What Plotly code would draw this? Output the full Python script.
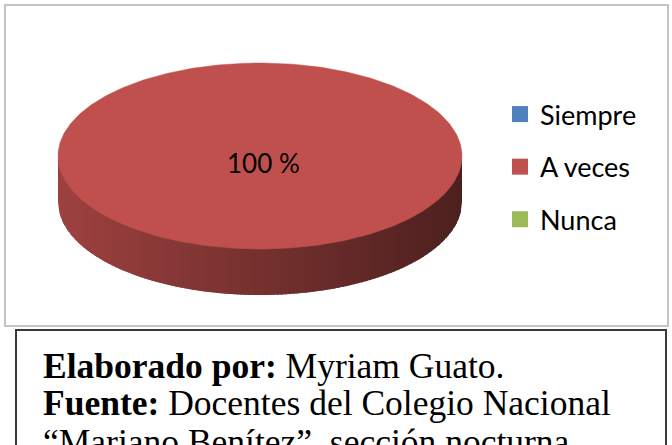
import numpy as np
import plotly.graph_objects as go

# ---- data ----
categories = ["Siempre", "A veces", "Nunca"]
values = [0, 100, 0]
colors = ["#4F81BD", "#C0504D", "#9BBB59"]
label_texts = ["0 %", "100 %", "0 %"]

# ---- geometry of the 3D pie (pixel space) ----
W, H = 672, 445
cx, cy, rx, ry, depth = 260, 156, 202, 93, 46

def hex_to_rgb(h):
    h = h.lstrip("#")
    return tuple(int(h[i:i + 2], 16) for i in (0, 2, 4))

def shade(rgb, f):
    return "rgb(%d,%d,%d)" % tuple(int(round(c * f)) for c in rgb)

fig = go.Figure()

total = float(sum(values))
start = -np.pi / 2
slices = []
for cat, v, col in zip(categories, values, colors):
    span = 2 * np.pi * v / total
    slices.append((cat, v, col, start, start + span))
    start += span

# side walls (front half, angles 0..pi in screen coords) with horizontal gradient,
# strips uniform in x, overlapping so no seams show
N = 100
for cat, v, col, a0, a1 in slices:
    if v <= 0:
        continue
    rgb = hex_to_rgb(col)
    for k in range(-1, 2):
        lo = max(a0, 0 + 2 * np.pi * k)
        hi = min(a1, np.pi + 2 * np.pi * k)
        if hi <= lo:
            continue
        xa = cx + rx * np.cos(hi - 2 * np.pi * k)
        xb = cx + rx * np.cos(lo - 2 * np.pi * k)
        xe = np.linspace(xa, xb, N + 1)
        for i in range(N):
            xx = np.linspace(xe[i], xe[i + 1] + 3.0, 6)
            xx = np.clip(xx, cx - rx, cx + rx)
            t = np.arccos(np.clip((xx - cx) / rx, -1, 1))
            yt = cy + ry * np.sin(t)
            xs = list(xx) + list(xx[::-1])
            ys = list(yt - 2) + list((yt + depth)[::-1])
            frac = ((xe[i] + xe[i + 1]) / 2 - (cx - rx)) / (2 * rx)
            f = 0.82 - 0.42 * frac
            c = shade(rgb, f)
            fig.add_trace(go.Scatter(
                x=xs, y=ys, mode="lines", fill="toself", fillcolor=c,
                line=dict(color=c, width=0), hoverinfo="skip", showlegend=False))

# top faces
for cat, v, col, a0, a1 in slices:
    if v <= 0:
        continue
    t = np.linspace(a0, a1, 361)
    xs = [cx] + list(cx + rx * np.cos(t)) + [cx]
    ys = [cy] + list(cy + ry * np.sin(t)) + [cy]
    fig.add_trace(go.Scatter(
        x=xs, y=ys, mode="lines", fill="toself", fillcolor=col,
        line=dict(color=col, width=0.5), hoverinfo="skip", showlegend=False))

# data labels
for (cat, v, col, a0, a1), txt in zip(slices, label_texts):
    if v <= 0:
        continue
    if v >= total:
        lx, ly = cx, cy
    else:
        am = (a0 + a1) / 2
        lx, ly = cx + 0.6 * rx * np.cos(am), cy + 0.6 * ry * np.sin(am)
    fig.add_annotation(x=lx, y=ly, xref="x", yref="y", text=txt, showarrow=False,
                       yshift=-7, xshift=3,
                       font=dict(family="Lato", size=26, color="#000000"))

# legend entries
for i, (cat, col) in enumerate(zip(categories, colors)):
    fig.add_trace(go.Scatter(
        x=[None], y=[None], mode="markers", name=cat, legendgroup=cat,
        marker=dict(symbol="square", size=16, color=col)))

# frames
fig.add_shape(type="rect", xref="x", yref="y", x0=5, y0=5, x1=668, y1=326,
              line=dict(color="#C4C4C4", width=2), layer="below")
fig.add_shape(type="rect", xref="x", yref="y", x0=16, y0=330, x1=666, y1=470,
              line=dict(color="#3A3A3A", width=2), layer="below")

# caption text
serif = dict(family="Liberation Serif, Times New Roman, serif", size=35.5, color="#000000")
fig.add_annotation(x=41, y=366, xref="x", yref="y", xanchor="left", yanchor="middle",
                   text="<b>Elaborado por:</b> Myriam Guato.", showarrow=False, font=serif)
fig.add_annotation(x=41, y=403, xref="x", yref="y", xanchor="left", yanchor="middle",
                   text="<b>Fuente:</b> Docentes del Colegio Nacional", showarrow=False, font=serif)
fig.add_annotation(x=41, y=442, xref="x", yref="y", xanchor="left", yanchor="middle",
                   text="\u201cMariano Ben\u00edtez\u201d, secci\u00f3n nocturna", showarrow=False, font=serif)

fig.update_layout(
    width=W, height=H,
    margin=dict(l=0, r=0, t=0, b=0),
    paper_bgcolor="white", plot_bgcolor="white",
    xaxis=dict(range=[0, W], visible=False, fixedrange=True),
    yaxis=dict(range=[H, 0], visible=False, fixedrange=True),
    legend=dict(x=500 / W, y=1 - 90 / H, xanchor="left", yanchor="top",
                traceorder="grouped", tracegroupgap=14.5,
                font=dict(family="Lato", size=27, color="#000000"),
                bgcolor="rgba(0,0,0,0)"),
    showlegend=True,
)

fig.write_html("out.html")
